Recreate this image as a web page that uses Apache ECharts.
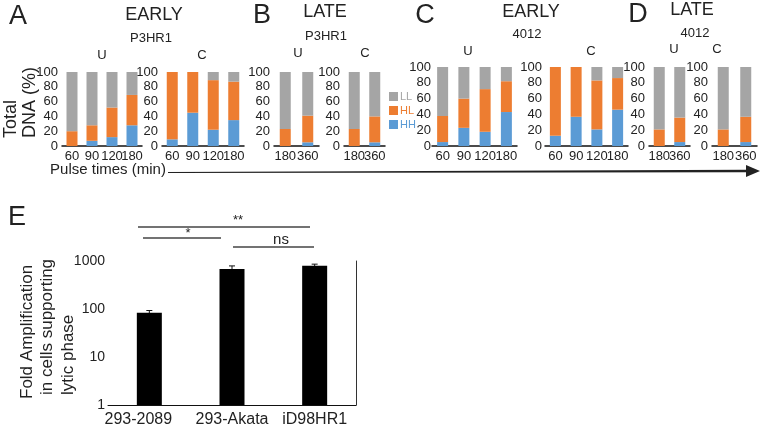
<!DOCTYPE html>
<html>
<head>
<meta charset="utf-8">
<script src="https://cdn.jsdelivr.net/npm/echarts@6.0.0/dist/echarts.min.js"></script>
<style>
html, body { margin: 0; padding: 0; background: #fff; }
#chart { width: 762px; height: 430px; }
</style>
</head>
<body>
<div id="chart"></div>
<script>
const FONT = '"Liberation Sans", Arial, sans-serif';
const GREY = '#A5A5A5', ORANGE = '#ED7D31', BLUE = '#5B9BD5';
const INK = '#222';

// pulse times
const earlyTimes = ['60', '90', '120', '180'];
const lateTimes = ['180', '360'];

// stacked segments (% of total DNA): HH bottom, HL middle, LL top
const aU_HH = [0, 7, 12, 28], aU_HL = [20, 21, 40, 41], aU_LL = [80, 72, 48, 31];
const aC_HH = [9, 45, 22, 35], aC_HL = [91, 55, 67, 52], aC_LL = [0, 0, 11, 13];
const bU_HH = [0, 5], bU_HL = [23, 36], bU_LL = [77, 59];
const bC_HH = [0, 5], bC_HL = [23, 35], bC_LL = [77, 60];
const cU_HH = [5, 23, 18, 43], cU_HL = [33, 37, 54, 39], cU_LL = [62, 40, 28, 18];
const cC_HH = [13, 37, 21, 46], cC_HL = [87, 63, 62, 40], cC_LL = [0, 0, 17, 14];
const dU_HH = [0, 5], dU_HL = [21, 31], dU_LL = [79, 64];
const dC_HH = [0, 5], dC_HL = [21, 32], dC_LL = [79, 63];

// panel E
const cellLines = ['293-2089', '293-Akata', 'iD98HR1'];
const foldAmp = [84, 680, 800];
const foldErr = [9, 110, 60];

// where each little plot sits
const plots = [
    { key: 'aU', cats: earlyTimes, HH: aU_HH, HL: aU_HL, LL: aU_LL, left: 62, width: 80, top: 72, height: 74, lm: 4 },
    { key: 'aC', cats: earlyTimes, HH: aC_HH, HL: aC_HL, LL: aC_LL, left: 162, width: 82, top: 72, height: 74, lm: 4 },
    { key: 'bU', cats: lateTimes, HH: bU_HH, HL: bU_HL, LL: bU_LL, left: 274, width: 45, top: 72, height: 74, lm: 4 },
    { key: 'bC', cats: lateTimes, HH: bC_HH, HL: bC_HL, LL: bC_LL, left: 344, width: 41, top: 72, height: 74, lm: 4 },
    { key: 'cU', cats: earlyTimes, HH: cU_HH, HL: cU_HL, LL: cU_LL, left: 432, width: 85, top: 67, height: 79, lm: 1 },
    { key: 'cC', cats: earlyTimes, HH: cC_HH, HL: cC_HL, LL: cC_LL, left: 545, width: 83, top: 67, height: 79, lm: 3 },
    { key: 'dU', cats: lateTimes, HH: dU_HH, HL: dU_HL, LL: dU_LL, left: 649, width: 41, top: 67, height: 79, lm: 4 },
    { key: 'dC', cats: lateTimes, HH: dC_HH, HL: dC_HL, LL: dC_LL, left: 712, width: 45, top: 67, height: 79, lm: 4 }
];

const grid = [], xAxis = [], yAxis = [], series = [];

plots.forEach((p, i) => {
    grid.push({ left: p.left, top: p.top, width: p.width, height: p.height });
    xAxis.push({
        type: 'category', gridIndex: i, data: p.cats,
        axisTick: { show: false },
        axisLine: { lineStyle: { color: '#111', width: 1.5 } },
        axisLabel: { interval: 0, fontSize: 13, color: INK, margin: 4, fontFamily: FONT }
    });
    yAxis.push({
        type: 'value', gridIndex: i, min: 0, max: 100, interval: 20,
        splitLine: { show: false }, axisLine: { show: false }, axisTick: { show: false },
        axisLabel: { fontSize: 13, color: INK, margin: p.lm, fontFamily: FONT }
    });
    [['HH', BLUE], ['HL', ORANGE], ['LL', GREY]].forEach(([name, color]) => {
        series.push({
            name, type: 'bar', xAxisIndex: i, yAxisIndex: i, stack: p.key,
            data: p[name], barWidth: 11, itemStyle: { color }, silent: true
        });
    });
});

// panel E
const eIdx = plots.length;
grid.push({ left: 108, top: 261, width: 248, height: 144 });
xAxis.push({
    type: 'category', gridIndex: eIdx,
    data: cellLines.map((c, i) => i === 0 ? { value: c, textStyle: { padding: [0, 22, 0, 0] } } : c),
    axisTick: { show: false },
    axisLine: { lineStyle: { color: '#111', width: 1 } },
    axisLabel: { interval: 0, fontSize: 16, color: INK, margin: 7, fontFamily: FONT }
});
yAxis.push({
    type: 'log', logBase: 10, gridIndex: eIdx, min: 1, max: 1000,
    splitLine: { show: false }, axisLine: { show: false }, axisTick: { show: false },
    axisLabel: { fontSize: 14, color: INK, margin: 3, fontFamily: FONT, formatter: v => String(Math.round(v)) }
});
yAxis.push({
    type: 'log', logBase: 10, gridIndex: eIdx, min: 1, max: 1000, position: 'right',
    splitLine: { show: false }, axisTick: { show: false }, axisLabel: { show: false },
    axisLine: { show: true, lineStyle: { color: '#333', width: 1 } }
});
series.push({
    type: 'bar', xAxisIndex: eIdx, yAxisIndex: eIdx, data: foldAmp,
    barWidth: 25, itemStyle: { color: '#000' }, silent: true
});
series.push({
    type: 'custom', xAxisIndex: eIdx, yAxisIndex: eIdx, silent: true,
    data: foldAmp.map((v, i) => [i, v - foldErr[i], v + foldErr[i]]),
    renderItem: function (params, api) {
        const lo = api.coord([api.value(0), api.value(1)]);
        const hi = api.coord([api.value(0), api.value(2)]);
        const st = { stroke: '#111', lineWidth: 1 };
        return {
            type: 'group',
            children: [
                { type: 'line', shape: { x1: lo[0], y1: lo[1], x2: hi[0], y2: hi[1] }, style: st },
                { type: 'line', shape: { x1: hi[0] - 3, y1: hi[1], x2: hi[0] + 3, y2: hi[1] }, style: st },
                { type: 'line', shape: { x1: lo[0] - 3, y1: lo[1], x2: lo[0] + 3, y2: lo[1] }, style: st }
            ]
        };
    }
});

function txt(text, x, y, size, extra) {
    return {
        type: 'text', x, y, silent: true,
        style: Object.assign({ text, font: size + 'px ' + FONT, fill: INK, align: 'center', verticalAlign: 'middle' }, extra || {})
    };
}
function vtxt(text, x, y, size) {
    return Object.assign(txt(text, x, y, size, { align: 'left' }), { rotation: Math.PI / 2 });
}

const graphic = [
    // panel letters and headings
    txt('A', 18, 17, 27), txt('EARLY', 154, 15, 18), txt('P3HR1', 151, 38, 13),
    txt('U', 102, 55, 13), txt('C', 202, 55, 13),
    txt('B', 262, 16, 27), txt('LATE', 325, 12, 18), txt('P3HR1', 326, 36, 13),
    txt('U', 298, 53, 13), txt('C', 365, 53, 13),
    txt('C', 425, 16, 27), txt('EARLY', 531, 12, 18), txt('4012', 527, 34, 13),
    txt('U', 468, 51, 13), txt('C', 591, 51, 13),
    txt('D', 638, 15, 27), txt('LATE', 692, 10, 18), txt('4012', 695, 33, 13),
    txt('U', 674, 49, 13), txt('C', 717, 49, 13),
    // y title of A-D
    vtxt('Total', 11, 138, 18),
    vtxt('DNA (%)', 30, 138, 18),
    txt('Pulse times (min)', 108, 170, 15),
    // time arrow
    {
        type: 'polygon', silent: true,
        shape: { points: [[168, 172], [746, 169.8], [746, 165], [760, 171], [746, 177], [746, 172.2], [168, 173]] },
        style: { fill: '#222' }
    },
    // panel E
    txt('E', 17, 218, 27),
    vtxt('Fold Amplification', 27, 399, 17),
    vtxt('in cells supporting', 47, 395, 17),
    vtxt('lytic phase', 68, 395, 17),
    { type: 'line', silent: true, shape: { x1: 138, y1: 227, x2: 310, y2: 227 }, style: { stroke: '#444', lineWidth: 1.5 } },
    { type: 'line', silent: true, shape: { x1: 143, y1: 238, x2: 221, y2: 238 }, style: { stroke: '#444', lineWidth: 1.5 } },
    { type: 'line', silent: true, shape: { x1: 233, y1: 247, x2: 314, y2: 247 }, style: { stroke: '#444', lineWidth: 1.5 } },
    txt('**', 238, 220, 13), txt('*', 188, 233, 13), txt('ns', 281, 240, 15)
];

const chart = echarts.init(document.getElementById('chart'), null, { renderer: 'canvas' });
chart.setOption({
    animation: false,
    backgroundColor: '#fff',
    textStyle: { fontFamily: FONT },
    legend: {
        orient: 'vertical', left: 384, top: 86, itemWidth: 9, itemHeight: 9, itemGap: 3,
        icon: 'rect', selectedMode: false,
        textStyle: { fontSize: 11, fontFamily: FONT, padding: [0, 0, 0, -3] },
        data: [
            { name: 'LL', textStyle: { color: GREY } },
            { name: 'HL', textStyle: { color: ORANGE } },
            { name: 'HH', textStyle: { color: BLUE } }
        ]
    },
    grid, xAxis, yAxis, series, graphic
});
</script>
</body>
</html>
